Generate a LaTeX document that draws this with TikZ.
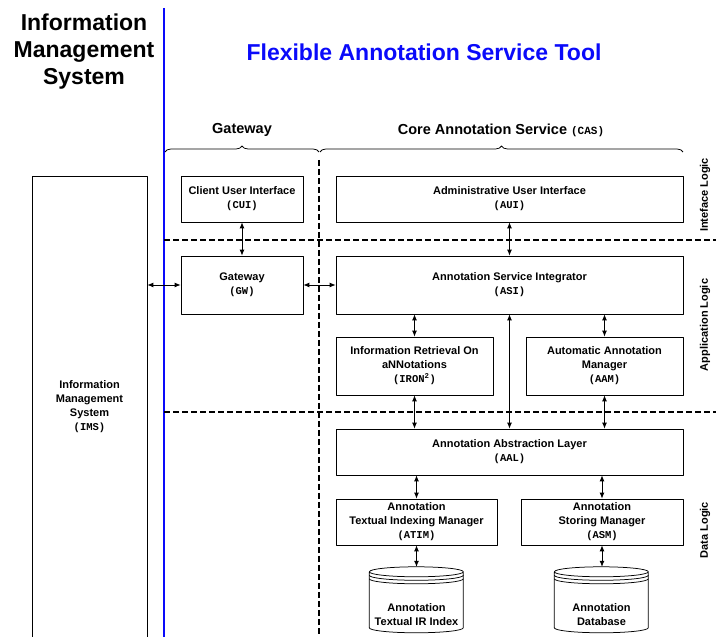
\documentclass[tikz,border=0pt]{standalone}
\usepackage{fontspec}
\setmainfont{Liberation Sans}
\setmonofont{Liberation Mono}
\usetikzlibrary{arrows.meta,decorations.pathreplacing}
\definecolor{titleblue}{RGB}{10,10,250}
% short name in brackets, typewriter
\newcommand{\shortname}[1]{{\ttfamily\fontsize{10.5}{14}\selectfont(#1)}}

\begin{document}
\begin{tikzpicture}[x=1pt, y=1pt, line join=round,
    box/.style={draw, line width=0.75pt, inner sep=0pt, align=center,
      font=\bfseries\fontsize{11}{14}\selectfont},
    lane/.style={line width=1.3pt, dash pattern=on 6pt off 3pt},
    biarrow/.style={line width=0.85pt, {Latex[length=6pt,width=5pt]}-{Latex[length=6pt,width=5pt]}},
    layerlabel/.style={rotate=90, font=\bfseries\fontsize{11}{13}\selectfont},
    grouptitle/.style={font=\bfseries\fontsize{14.5}{17}\selectfont},
    groupbrace/.style={decorate, decoration={brace, amplitude=6pt}, line width=0.75pt}]
  \useasboundingbox (0,0) rectangle (716,637);

  % Define parameters
  \def\wide{347} % width of the full CAS boxes
  \def\half{157} % width of the half CAS boxes

  % Titles
  \node[font=\bfseries\fontsize{23}{27}\selectfont, align=center] (imstitle) at (84,585) {Information\\Management\\System};
  \node[text=titleblue, font=\bfseries\fontsize{23}{27}\selectfont] (fastitle) at (424,585) {Flexible Annotation Service Tool};

  % Border between IMS and the tool
  \draw[titleblue, line width=1.6pt] (164,629) -- (164,0);

  % Groups
  \node[grouptitle] (gwtitle) at (242,507) {Gateway};
  \node[grouptitle] (castitle) at (501,507) {Core Annotation Service {\ttfamily\fontsize{11}{13}\selectfont(CAS)}};
  \draw[groupbrace] (165,485) -- (319,485);
  \draw[groupbrace] (320,485) -- (683,485);

  % Lanes (dashed)
  \draw[lane] (319,477) -- (319,0);
  \draw[lane] (164,397) -- (716,397);
  \draw[lane] (164,225) -- (716,225);

  % Layer labels
  \node[layerlabel] (ilogic) at (705,442) {Inteface Logic};
  \node[layerlabel] (alogic) at (705,312) {Application Logic};
  \node[layerlabel] (dlogic) at (705,107) {Data Logic};

  % Information Management System (open at the bottom)
  \node[box, minimum width=115, minimum height=480, anchor=north] (ims) at (89.5,461) {};
  \node[box, draw=none] (imslabel) at (89.5,230) {Information\\Management\\System\\\shortname{IMS}};

  % Interface logic
  \node[box, minimum width=122, minimum height=46] (cui) at (242,438) {Client User Interface\\\shortname{CUI}};
  \node[box, minimum width=\wide, minimum height=46] (aui) at (509.5,438) {Administrative User Interface\\\shortname{AUI}};

  % Application logic
  \node[box, minimum width=122, minimum height=58] (gw) at (242,352) {Gateway\\\shortname{GW}};
  \node[box, minimum width=\wide, minimum height=58] (asi) at (509.5,352) {Annotation Service Integrator\\\shortname{ASI}};
  \node[box, minimum width=\half, minimum height=58] (iron) at (414.5,271) {Information Retrieval On\\aNNotations\\\shortname{IRON\textsuperscript{2}}};
  \node[box, minimum width=\half, minimum height=58] (aam) at (604.5,271) {Automatic Annotation\\Manager\\\shortname{AAM}};

  % Data logic
  \node[box, minimum width=\wide, minimum height=46] (aal) at (509.5,185) {Annotation Abstraction Layer\\\shortname{AAL}};
  \node[box, minimum width=161, minimum height=46] (atim) at (416.5,115) {Annotation\\Textual Indexing Manager\\\shortname{ATIM}};
  \node[box, minimum width=162, minimum height=46] (asm) at (602,115) {Annotation\\Storing Manager\\\shortname{ASM}};

  % Databases (drums)
  \node[minimum width=94, minimum height=66, inner sep=0pt] (idx) at (416.5,37) {};
  \node[minimum width=94, minimum height=66, inner sep=0pt] (store) at (601.5,37) {};
  \foreach \db in {idx, store}{
    \draw[line width=0.75pt, fill=white] (\db.north west) ++(0,-5) -- ++(0,-56)
      arc (180:360:47 and 5) -- ++(0,56) arc (0:360:47 and 5);
    \draw[line width=0.75pt] (\db.north west) ++(0,-8.5) arc (180:360:47 and 5);
    \draw[line width=0.75pt] (\db.north west) ++(0,-12) arc (180:360:47 and 5);
  }
  \node[box, draw=none] (idxlabel) at (416.5,22) {Annotation\\Textual IR Index};
  \node[box, draw=none] (storelabel) at (601.5,22) {Annotation\\Database};

  % Connections
  \draw[biarrow] (ims.east |- gw.west) -- (gw.west);
  \draw[biarrow] (gw.east) -- (asi.west |- gw.east);
  \draw[biarrow] (cui.south) -- (gw.north);
  \draw[biarrow] (aui.south) -- (asi.north);
  \draw[biarrow] (iron.north) -- (iron.north |- asi.south);
  \draw[biarrow] (aam.north) -- (aam.north |- asi.south);
  \draw[biarrow] (iron.south) -- (iron.south |- aal.north);
  \draw[biarrow] (aam.south) -- (aam.south |- aal.north);
  \draw[biarrow] (aal.north) -- (asi.south);
  \draw[biarrow] (atim.north) -- (atim.north |- aal.south);
  \draw[biarrow] (asm.north) -- (asm.north |- aal.south);
  \draw[biarrow] (atim.south) -- (atim.south |- idx.north);
  \draw[biarrow] (asm.south) -- (asm.south |- store.north);
\end{tikzpicture}
\end{document}
